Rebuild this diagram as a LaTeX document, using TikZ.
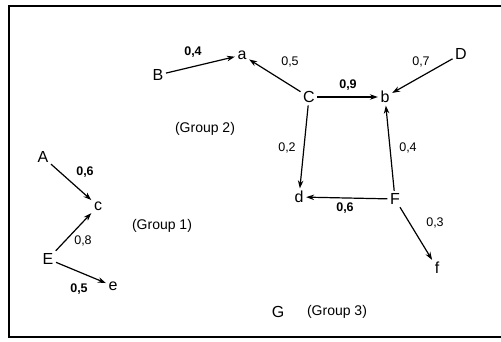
\documentclass[tikz,border=0pt]{standalone}
\usepackage{fontspec}
\setmainfont{Liberation Sans}
\usetikzlibrary{arrows.meta}
\begin{document}
\begin{tikzpicture}[x=1pt,y=-1pt,
  vtx/.style={font=\fontsize{16}{16}\selectfont, inner sep=2.5pt},
  wt/.style={font=\fontsize{12.5}{13}\selectfont, inner sep=0pt},
  bwt/.style={font=\fontsize{12.5}{13}\selectfont\bfseries, inner sep=0pt},
  grp/.style={font=\fontsize{14}{14}\selectfont, inner sep=0pt},
  arr/.style={-{Stealth[length=8pt,width=5.5pt]}, line width=1.2pt},
  frame/.style={line width=1.3pt}]
\useasboundingbox (0,0) rectangle (501,341);
\fill[white] (0,0) rectangle (501,341);
\draw[frame] (510,6) -- (9,6) -- (9,337) -- (510,337);
% nodes
\node[vtx] (B) at (158,75) {B};
\node[vtx] (a) at (242,55) {a};
\node[vtx] (C) at (309,97) {C};
\node[vtx] (b) at (385,97) {b};
\node[vtx] (D) at (461,54) {D};
\node[vtx] (d) at (299,197) {d};
\node[vtx] (F) at (395,199) {F};
\node[vtx] (f) at (437,268) {f};
\node[vtx] (G) at (278,312) {G};
\node[vtx] (A) at (43,157) {A};
\node[vtx] (c) at (98,206) {c};
\node[vtx] (E) at (48,259) {E};
\node[vtx] (e) at (113,286) {e};
% group labels
\node[grp] (g1) at (162,226) {(Group 1)};
\node[grp] (g2) at (205,129) {(Group 2)};
\node[grp] (g3) at (337,312) {(Group 3)};
% edges
\draw[arr] (B) -- (a);
\draw[arr] (C) -- (a);
\draw[arr] (C) -- (b);
\draw[arr] (D) -- (b);
\draw[arr] (C) -- (d);
\draw[arr] (F) -- (b);
\draw[arr] (F) -- (d);
\draw[arr] (F) -- (f);
\draw[arr] (A) -- (c);
\draw[arr] (E) -- (c);
\draw[arr] (E) -- (e);
% weights
\node[bwt] (w1) at (193,52) {0,4};
\node[wt] (w2) at (290,62) {0,5};
\node[bwt] (w3) at (348,85) {0,9};
\node[wt] (w4) at (421,62) {0,7};
\node[wt] (w5) at (287,148) {0,2};
\node[wt] (w6) at (408,148) {0,4};
\node[bwt] (w7) at (345,208) {0,6};
\node[wt] (w8) at (435,223) {0,3};
\node[bwt] (w9) at (85,172) {0,6};
\node[wt] (w10) at (83,241) {0,8};
\node[bwt] (w11) at (79,289) {0,5};
\end{tikzpicture}
\end{document}
